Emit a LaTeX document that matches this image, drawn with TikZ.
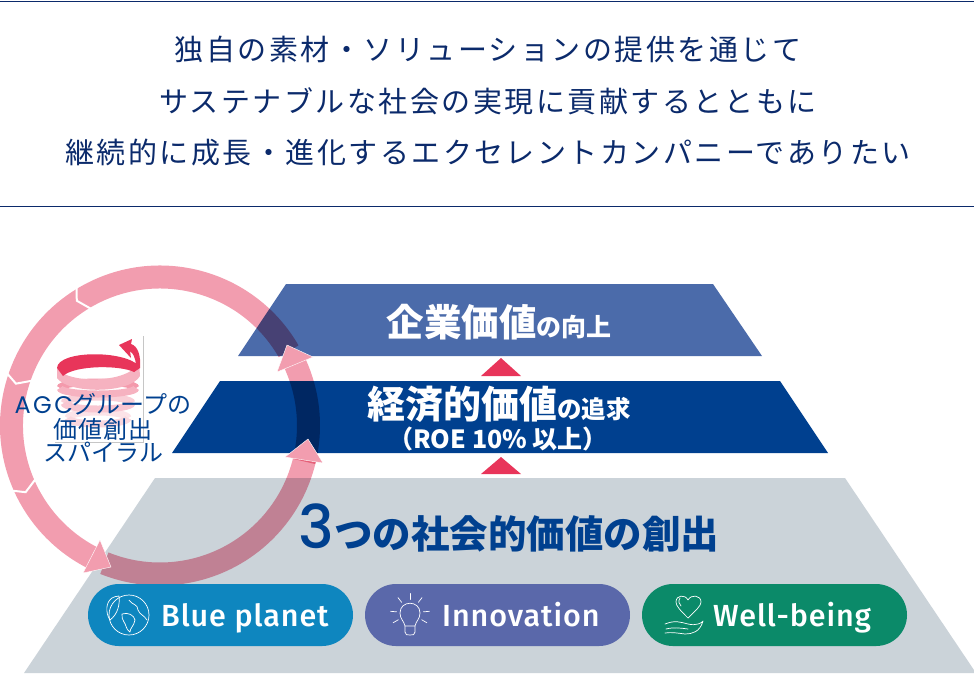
\documentclass[tikz,border=0pt]{standalone}
\usepackage{fontspec}
\newfontfamily\jp{Noto Sans CJK JP}
\newfontfamily\jpsp[LetterSpace=8.5]{Noto Sans CJK JP}
\newfontfamily\jpwide[LetterSpace=4]{Noto Sans CJK JP}
\newfontfamily\dinlike[LetterSpace=3]{Fira Sans Medium}
\newfontfamily\numfont{Poppins Medium}
\newfontfamily\agcfont{Poppins}
\usetikzlibrary{shapes.misc}
\definecolor{navy}{HTML}{00408F}
\definecolor{headnavy}{HTML}{0B2A6B}
\definecolor{steel}{HTML}{4B6BAA}
\definecolor{pale}{HTML}{CBD3D9}
\definecolor{ringpink}{HTML}{F29DAF}
\definecolor{redup}{HTML}{E8355A}
\definecolor{pillblue}{HTML}{0E86BF}
\definecolor{pillviolet}{HTML}{5A68AA}
\definecolor{pillgreen}{HTML}{0B8A69}
\tikzset{
	headline/.style={font=\jpsp\fontsize{29}{29}\selectfont,text=headnavy,inner sep=0pt},
	wtext/.style={font=\jp\bfseries,text=white,inner sep=0pt},
	spiraltext/.style={font=\jp\fontsize{24}{24}\selectfont,text=navy,inner sep=0pt},
	pill/.style={rounded rectangle,minimum width=265pt,minimum height=62pt,inner sep=0pt},
	pilltext/.style={font=\dinlike\fontsize{30.5}{30}\selectfont,text=white,inner sep=0pt,anchor=base west},
	icon/.style={draw=white,line width=.7pt,line cap=round,line join=round},
	ringhead/.style={fill=ringpink,draw=white,line width=.4pt},
}
\begin{document}
\begin{tikzpicture}[x=1pt,y=-1pt]
	\useasboundingbox (0,0) rectangle (974,673);
	% head of the page
	\draw[headnavy,line width=1pt] (0,1) -- (974,1);
	\draw[headnavy,line width=1pt] (0,206) -- (974,206);
	\node[headline] (line1) at (488,49.5) {独自の素材・ソリューションの提供を通じて};
	\node[headline] (line2) at (488,101) {サステナブルな社会の実現に貢献するとともに};
	\node[headline] (line3) at (488,153) {継続的に成長・進化するエクセレントカンパニーでありたい};
	% pyramid
	\fill[pale] (24,673) -- (155,478) -- (845,478) -- (976,673) -- cycle;
	\fill[navy] (172,453) -- (220,381) -- (780,381) -- (828,453) -- cycle;
	\fill[steel] (238,356) -- (286,284) -- (713,284) -- (762,356) -- cycle;
	\fill[redup] (481,376) -- (501,358) -- (521,376) -- cycle;
	\fill[redup] (481,474) -- (501,457) -- (521,474) -- cycle;
	% ring
	\begin{scope}[blend mode=multiply,shift={(160,425.5)}]
		\draw[ringpink,line width=23pt] (14:148.5) arc[start angle=14,end angle=-25,radius=148.5];
		\draw[ringpink,line width=23pt] (-30:148.5) arc[start angle=-30,end angle=-243,radius=148.5];
		\draw[ringpink,line width=23pt] (112:148.5) arc[start angle=112,end angle=12,radius=148.5];
	\end{scope}
	\begin{scope}[shift={(160,425.5)}]
		\foreach \a in {-123.7,-163.8,-206.4}{
			\pgfmathsetmacro{\ao}{\a+2.5}
			\pgfmathsetmacro{\ai}{\a+3}
			\draw[white,line width=2pt,line join=miter] (\ao:161) -- (\a:150) -- (\ai:136);
		}
	\end{scope}
	% arrow heads
	\fill[ringhead] (100,540) -- (111,567) -- (83,573) -- cycle;
	\fill[ringhead] (285,457) -- (308,439) -- (323,463) -- cycle;
	\fill[ringhead] (277,372) -- (287,345) -- (313,357) -- cycle;
	% spiral
	\draw[gray!45,line width=.4pt] (143,336) -- (143,442) -- (55,442);
	\foreach \yy/\rx/\cb/\cf in {418/30/redup!14/redup!20,403/34/redup!24/redup!28,388/38/redup!50/redup!38}{
		\draw[\cb,line width=7pt] (98-\rx,\yy) arc[start angle=180,end angle=360,x radius=\rx,y radius=6];
		\draw[\cf,line width=7pt] (98-\rx,\yy) arc[start angle=180,end angle=0,x radius=\rx,y radius=6];
	}
	\fill[redup!38] (57,368) .. controls (66,384) and (130,384) .. (139,362) -- (140,376) .. controls (130,394) and (68,394) .. (57,378) -- cycle;
	\fill[redup] (57,368) .. controls (58,350) and (125,350) .. (139,366) -- (134,372) .. controls (120,365) and (75,365) .. (63,376) -- cycle;
	\fill[redup] (131,358) -- (119,345) -- (132,339) -- (131,344) .. controls (138,346) and (141,356) .. (140,368) -- (134,372) .. controls (137,364) and (136,356) .. (130,351) -- cycle;
	\node[spiraltext] (spiral1) at (103,404) {{\agcfont A\kern2.5pt G\kern2.5pt C}グループの};
	\node[spiraltext,font=\jpwide\fontsize{24}{24}\selectfont] (spiral2) at (103,429) {価値創出};
	\node[spiraltext] (spiral3) at (103,452.5) {スパイラル};
	% pyramid text
	\node[wtext] (corp) at (499,322) {\fontsize{37.5}{37.5}\selectfont 企業価値\fontsize{25}{25}\selectfont の向上};
	\node[wtext] (econ) at (499,404) {\fontsize{38}{38}\selectfont 経済的価値\fontsize{24.5}{24.5}\selectfont の追求};
	\node[wtext] (roe) at (498,439) {\fontsize{25}{25}\selectfont （ROE 10\% 以上）};
	\node[font=\jp\bfseries,text=navy,inner sep=0pt] (social) at (509,528) {{\numfont\mdseries\fontsize{60}{60}\selectfont 3}\fontsize{38.5}{38.5}\selectfont つの社会的価値の創出};
	% pills
	\node[pill,fill=pillblue] (blue) at (220.5,615) {};
	\node[pill,fill=pillviolet] (inno) at (497.5,615) {};
	\node[pill,fill=pillgreen] (well) at (774.5,615) {};
	\node[pilltext] (bluet) at (161,626) {Blue planet};
	\node[pilltext] (innot) at (442,626) {Innovation};
	\node[pilltext] (wellt) at (713,626) {Well-being};
	% globe
	\draw[icon] (129,615) circle (20);
	\draw[icon] (112,598) .. controls (106,602) and (105,612) .. (110,620) .. controls (118,614) and (120,604) .. (119,596) .. controls (116,596) and (114,597) .. (112,598) -- cycle;
	\draw[icon] (129,600) .. controls (132,605) and (138,604) .. (138,610) .. controls (140,615) and (144,615) .. (147,620);
	\draw[icon] (122,614) .. controls (128,612) and (134,615) .. (135,620) .. controls (134,626) and (130,628) .. (130,632) .. controls (126,630) and (126,624) .. (124,622) .. controls (122,620) and (122,617) .. (122,614) -- cycle;
	% bulb
	\draw[icon] (405,626) .. controls (404,621) and (400,619) .. (400,613) .. controls (400,600) and (420,600) .. (420,613) .. controls (420,619) and (416,621) .. (415,626) -- cycle;
	\draw[icon] (405,626) -- (405,632) .. controls (405,635) and (407,635) .. (410,635) .. controls (413,635) and (415,635) .. (415,632) -- (415,626);
	\begin{scope}[shift={(410,613)}]
		\foreach \a in {-90,-52,-128,-5,-175,30,150}{
			\draw[icon] (\a:13.5) -- (\a:19.5);
		}
	\end{scope}
	% heart in hand
	\draw[icon] (688,618) .. controls (680,610) and (676,606) .. (676,602) .. controls (676,595) and (685,594) .. (688,600) .. controls (691,594) and (701,595) .. (701,602) .. controls (701,606) and (696,610) .. (688,618) -- cycle;
	\draw[icon] (680,598) .. controls (678,601) and (679,604) .. (681,606);
	\draw[icon] (665,624) .. controls (675,620) and (680,622) .. (688,624) .. controls (696,626) and (702,623) .. (703,621) .. controls (700,632) and (692,634) .. (685,634) .. controls (677,633) and (672,632) .. (665,633);
	\draw[icon] (666,629) .. controls (674,627) and (680,628) .. (688,629);
\end{tikzpicture}
\end{document}
